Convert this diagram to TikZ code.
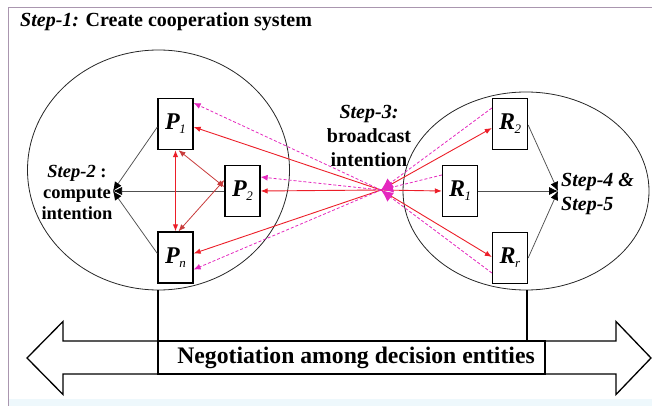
\documentclass[tikz,border=0pt]{standalone}
\usepackage{fontspec}
\setmainfont{Liberation Serif}
\usetikzlibrary{arrows.meta,calc}
\definecolor{frameline}{RGB}{170,150,175}
\definecolor{bandcol}{RGB}{238,248,252}
\definecolor{redline}{RGB}{236,30,40}
\definecolor{darkred}{RGB}{200,60,60}
\definecolor{magline}{RGB}{228,40,190}
\definecolor{grayline}{RGB}{80,80,80}
\newcommand{\Plab}[2]{{\bfseries\itshape #1}\kern-0.5pt\raisebox{-0.35ex}{\fontsize{13}{13}\selectfont\itshape #2}}
\begin{document}
\begin{tikzpicture}[x=1pt,y=-1pt,
  pbox/.style={draw,line width=1.3pt,minimum width=35pt,minimum height=51pt,inner sep=0pt,fill=white,font=\fontsize{24}{26}\selectfont},
  lbl/.style={font=\fontsize{18.5}{21}\selectfont\bfseries,inner sep=0pt},
  ell/.style={draw,line width=0.8pt,black!85},
  redarr/.style={draw=redline,line width=0.9pt,-{Latex[length=7pt,width=5.5pt]}},
  dredarr/.style={draw=darkred,line width=0.8pt,{Latex[length=7pt,width=5.5pt]}-{Latex[length=7pt,width=5.5pt]}},
  brarr/.style={draw=redline,line width=1pt,{Latex[length=7pt,width=5.5pt]}-{Latex[length=7pt,width=5.5pt]}},
  magarr/.style={draw=magline,line width=0.8pt,dash pattern=on 3pt off 2pt,-{Latex[length=7pt,width=6pt]}},
  magin/.style={draw=magline,line width=0.8pt,dash pattern=on 3pt off 2pt,-{Latex[length=12pt,width=11pt]}},
  grayarr/.style={draw=grayline,line width=0.75pt,-{Latex[length=9pt,width=8pt,color=black]}}
]
\useasboundingbox (0,0) rectangle (652,406);
% frame
\fill[bandcol] (8,399) rectangle (652,406);
\draw[frameline,line width=0.9pt] (8,406) -- (8,7) -- (652,7);
% title
\node[lbl,anchor=west,font=\fontsize{20}{22}\selectfont\bfseries] (title) at (20,22) {{\itshape Step-1:} Create cooperation system};
% ellipses
\draw[ell] (158.5,170) ellipse [x radius=131, y radius=120];
\draw[ell] (526,191) ellipse [x radius=123, y radius=99];
% bottom double arrow
\draw[line width=1.3pt,fill=white] (27,358) -- (63,321.5) -- (63,341) -- (616,341) -- (616,321.5) -- (651,358) -- (616,394.5) -- (616,374) -- (63,374) -- (63,394.5) -- cycle;
\node[draw,line width=1.3pt,minimum width=387pt,minimum height=33pt,inner sep=0pt,fill=white,
  font=\fontsize{23.7}{25}\selectfont\bfseries] (neg) at (351.5,357.5) {\hspace*{9pt}Negotiation among decision entities};
% nodes
\node[pbox] (P1) at (175.5,124) {\Plab{P}{1}};
\node[pbox] (P2) at (242.5,191) {\Plab{P}{2}};
\node[pbox] (Pn) at (175.5,257.5) {\Plab{P}{n}};
\node[pbox] (R2) at (510,124) {\Plab{R}{2}};
\node[pbox] (R1) at (460,191) {\Plab{R}{1}};
\node[pbox] (Rr) at (510,258) {\Plab{R}{r}};
% vertical connectors to negotiation bar
\coordinate (lc) at (158,290);
\coordinate (rc) at (527,290);
\draw[line width=1.3pt] (lc) -- (lc |- neg.north);
\draw[line width=1.3pt] (rc) -- (rc |- neg.north);
% labels
\node[lbl,align=center] (s2) at (77,192) {{\itshape Step-2} :\\compute\\intention};
\coordinate (s2tip) at (113,191);
\node[lbl,align=center,font=\fontsize{20}{24}\selectfont\bfseries] (s3) at (369,136) {{\itshape Step-3:}\\broadcast\\intention};
\node[lbl,align=left,anchor=west,font=\fontsize{20}{24}\selectfont\bfseries\itshape] (s4) at (561,194) {Step-4 \&\\Step-5};
\coordinate (s4tip) at (558,191);
\coordinate (c) at (381,190);
% step-2 arrows
\draw[grayarr] ([yshift=-3pt]P1.west) -- (s2tip);
\draw[grayarr] (P2.west) -- (s2tip);
\draw[grayarr] ([yshift=4pt]Pn.west) -- (s2tip);
% step-4 arrows
\draw[grayarr] ([yshift=-1pt]R2.east) -- (s4tip);
\draw[grayarr] (R1.east) -- (s4tip);
\draw[grayarr] (Rr.east) -- (s4tip);
% internal P arrows
\draw[brarr] (P1.south) -- (Pn.north);
\draw[dredarr] ([xshift=3pt]P1.south) -- ([yshift=4pt]P2.west);
\draw[dredarr] ([xshift=3pt]Pn.north) -- ([yshift=11pt]P2.west);
% red broadcast
\draw[redarr] (c) -- ([yshift=-3pt]P1.east);
\draw[redarr] (c) -- (P2.east);
\draw[redarr] (c) -- ([yshift=4pt]Pn.east);
\draw[redarr] (c) -- ([yshift=-4pt]R2.west);
\draw[redarr] (c) -- (R1.west);
\draw[redarr] (c) -- ([yshift=1pt]Rr.west);
% magenta dashed
\draw[magarr] (c) -- ([yshift=21pt]P1.east);
\draw[magarr] (c) -- ([yshift=14pt]P2.east);
\draw[magarr] (c) -- ([yshift=-12pt]Pn.east);
\draw[magin] ([yshift=16pt]R2.west) -- (c);
\draw[magin] ([yshift=16pt]R1.west) -- (c);
\draw[magin] ([yshift=-15pt]Rr.west) -- (c);
\end{tikzpicture}
\end{document}
